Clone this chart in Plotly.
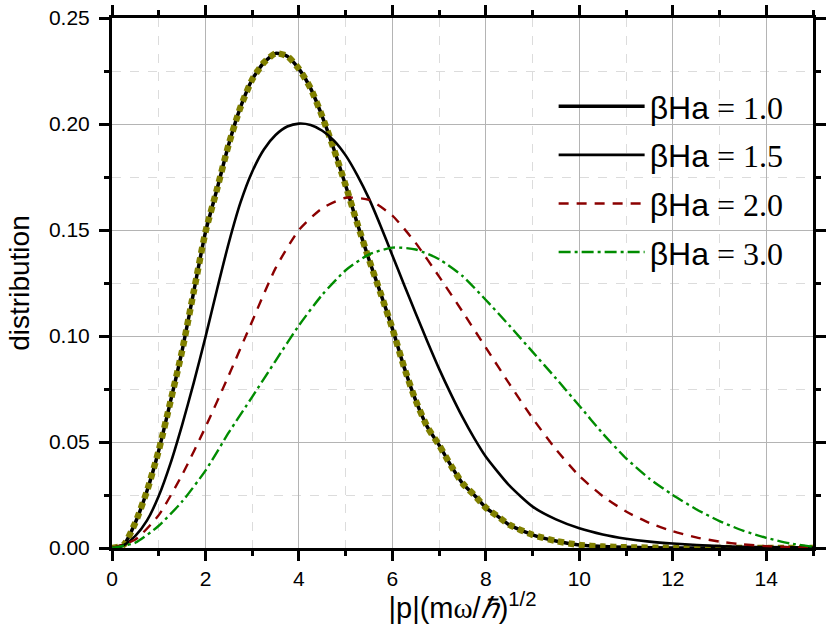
import plotly.graph_objects as go

# ---- data ----
x_b10 = [0, 0.25, 0.5, 0.75, 1.0, 1.25, 1.5, 1.75, 2.0, 2.25, 2.5, 2.75, 3.0, 3.25, 3.5, 3.75,
         4.0, 4.25, 4.5, 4.75, 5.0, 5.25, 5.5, 5.75, 6.0, 6.25, 6.5, 6.75, 7.0, 7.25, 7.5, 7.75,
         8.0, 8.25, 8.5, 9.0, 9.5, 10.0, 10.5, 11.0, 12.0, 13.0, 14.0, 15.0]
y_b10 = [0, 0.0015, 0.012, 0.027, 0.046, 0.069, 0.093, 0.121, 0.149, 0.1695, 0.1906, 0.208, 0.221, 0.229, 0.2333, 0.232,
         0.226, 0.2168, 0.2035, 0.188, 0.171, 0.153, 0.136, 0.120, 0.1035, 0.0853, 0.0695, 0.057, 0.0485, 0.039, 0.0305, 0.025,
         0.019, 0.015, 0.011, 0.0062, 0.0033, 0.0014, 0.0007, 0.0003, 0.00005, 0.0, 0.0, 0.0]

x_b15 = [0, 0.25, 0.5, 0.75, 1.0, 1.25, 1.5, 1.75, 2.0, 2.25, 2.5, 2.75, 3.0, 3.25, 3.5, 3.75,
         4.0, 4.25, 4.5, 4.75, 5.0, 5.25, 5.5, 5.75, 6.0, 6.25, 6.5, 6.75, 7.0, 7.25, 7.5, 7.75,
         8.0, 8.5, 9.0, 9.5, 10.0, 10.5, 11.0, 11.5, 12.0, 13.0, 14.0, 15.0]
y_b15 = [0, 0.0013, 0.0057, 0.013, 0.0245, 0.0398, 0.058, 0.078, 0.0995, 0.1222, 0.144, 0.163, 0.1775, 0.188, 0.1948, 0.1988,
         0.2002, 0.1995, 0.1968, 0.1922, 0.1852, 0.1758, 0.1648, 0.1518, 0.1380, 0.1242, 0.1106, 0.0973, 0.0845, 0.0727, 0.0617, 0.0518,
         0.043, 0.0295, 0.0195, 0.0135, 0.0093, 0.0064, 0.0044, 0.003, 0.0021, 0.0009, 0.0004, 0.0002]

x_b20 = [0, 0.5, 1.0, 1.5, 2.0, 2.5, 3.0, 3.5, 4.0, 4.5, 5.0, 5.5, 6.0, 6.5, 7.0, 7.5,
         8.0, 8.5, 9.0, 9.5, 10.0, 10.5, 11.0, 11.5, 12.0, 12.5, 13.0, 13.5, 14.0, 14.5, 15.0]
y_b20 = [0, 0.004, 0.0155, 0.0345, 0.057, 0.0815, 0.107, 0.132, 0.150, 0.1603, 0.1652, 0.1642, 0.1568, 0.1438, 0.128, 0.1115,
         0.0945, 0.0775, 0.0612, 0.0465, 0.034, 0.0245, 0.0172, 0.0118, 0.0079, 0.005, 0.003, 0.0017, 0.0009, 0.0004, 0.0002]

x_b30 = [0, 0.5, 1.0, 1.5, 2.0, 2.5, 3.0, 3.5, 4.0, 4.5, 5.0, 5.5, 6.0, 6.5, 7.0, 7.5,
         8.0, 8.5, 9.0, 9.5, 10.0, 10.5, 11.0, 11.5, 12.0, 12.5, 13.0, 13.5, 14.0, 14.5, 15.0]
y_b30 = [0, 0.0025, 0.0105, 0.0219, 0.0365, 0.0545, 0.0713, 0.0883, 0.105, 0.1195, 0.131, 0.1385, 0.1417, 0.1408, 0.1362, 0.1283,
         0.117, 0.105, 0.0925, 0.080, 0.0671, 0.054, 0.0423, 0.0327, 0.025, 0.0183, 0.0127, 0.0082, 0.0048, 0.0022, 0.0006]

labels = ["1.0", "1.5", "2.0", "3.0"]

def leg(v):
    return ('<span style="font-family:Liberation Sans">\u03b2Ha</span>'
            '<span style="font-family:Liberation Serif"> = ' + v + '</span>')

fig = go.Figure()
fig.add_trace(go.Scatter(x=x_b10, y=y_b10, mode="lines", name=leg(labels[0]), legendgroup="a",
                         line=dict(color="black", width=3.5, shape="spline", smoothing=0.6)))
fig.add_trace(go.Scatter(x=x_b10, y=y_b10, mode="lines", showlegend=False, legendgroup="a",
                         line=dict(color="#808000", width=6.5, dash="6px,4.5px", shape="spline", smoothing=0.6)))
fig.add_trace(go.Scatter(x=x_b15, y=y_b15, mode="lines", name=leg(labels[1]), legendgroup="b",
                         line=dict(color="black", width=2.6, shape="spline", smoothing=0.6)))
fig.add_trace(go.Scatter(x=x_b20, y=y_b20, mode="lines", name=leg(labels[2]), legendgroup="c",
                         line=dict(color="#8B0000", width=2.4, dash="10px,8px", shape="spline", smoothing=0.6)))
fig.add_trace(go.Scatter(x=x_b30, y=y_b30, mode="lines", name=leg(labels[3]), legendgroup="d",
                         line=dict(color="#008C00", width=2.4, dash="12px,4px,3px,4px", shape="spline", smoothing=0.6)))

axis_common = dict(
    showline=True, linecolor="black", linewidth=3, mirror="ticks",
    ticks="outside", ticklen=10, tickwidth=3, tickcolor="black",
    showgrid=True, gridcolor="#b4b4b4", gridwidth=1,
    zeroline=False,
    tickfont=dict(family="Liberation Sans, Arial", size=21, color="black"),
)

fig.update_xaxes(range=[0, 15], dtick=2, tick0=0,
                 minor=dict(dtick=1, ticks="outside", ticklen=5, tickwidth=3, tickcolor="black",
                            showgrid=True, gridcolor="#dcdcdc", griddash="dash", gridwidth=1),
                 title=dict(text='|p|(m<span style="font-family:Liberation Serif">\u03c9</span>/'
                                 '<span style="font-family:Liberation Serif"><i>\u210f</i></span>)<sup>1/2</sup>',
                            font=dict(family="Liberation Sans, Arial", size=29, color="black"), standoff=0),
                 **axis_common)
fig.update_yaxes(range=[0, 0.25], dtick=0.05, tick0=0, tickformat=".2f", ticklabelstandoff=5,
                 minor=dict(dtick=0.025, ticks="outside", ticklen=5, tickwidth=3, tickcolor="black",
                            showgrid=True, gridcolor="#dcdcdc", griddash="dash", gridwidth=1),
                 title=dict(text="distribution",
                            font=dict(family="Liberation Sans, Arial", size=28, color="black"),
                            standoff=12),
                 **axis_common)

fig.update_layout(
    width=829, height=624,
    margin=dict(l=112, r=3, t=18, b=76),
    plot_bgcolor="white", paper_bgcolor="white",
    legend=dict(x=0.63, y=0.885, xanchor="left", yanchor="top", bgcolor="rgba(0,0,0,0)",
                font=dict(size=32, color="black"), itemwidth=86, tracegroupgap=4),
)

fig.write_html("out.html")
